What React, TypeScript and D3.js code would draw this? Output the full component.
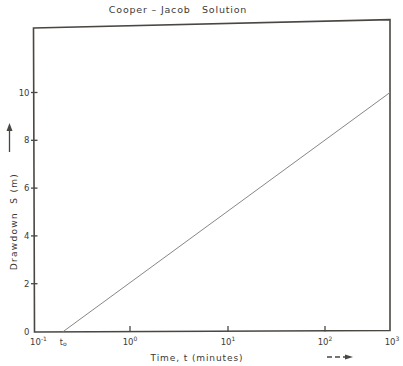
import React from "react";
import * as d3 from "d3";

const titleText = "Cooper – Jacob   Solution";
const xTitle = "Time, t (minutes)";
const yTitle = "Drawdown  S (m)";
const xDecades = [0.1, 1, 10, 100, 1000];
const xExponents = ["-1", "0", "1", "2", "3"];
const xInnerTicks = [1, 10, 100];
const yTicks = [0, 2, 4, 6, 8, 10];
const t0Label = "t";
const t0Value = 0.2;
const lineTime = [0.2, 1000];
const lineDrawdown = [0, 10];

export default function App() {
  const W = 403;
  const H = 366;
  // hand-drawn log axis: decades are not evenly spaced in the original drawing
  const x = d3.scaleLog().domain(xDecades).range([34.5, 130, 228, 325, 390]);
  const y = d3.scaleLinear().domain([0, 10]).range([331.5, 92.5]);
  const ink = "#4a4642";
  const txt = "#3c3a38";
  const font = "'DejaVu Sans', 'Liberation Sans', sans-serif";

  const frame = `M${x(0.1) - 1},${y(12.7)} L${x(1000)},${y(13.05)} L${x(1000)},${y(0) - 1} L${x(0.1)},${y(0) + 0.5} Z`;

  const pts: [number, number][] = lineTime.map((t, i) => [t, lineDrawdown[i]]);
  const linePath = d3
    .line<[number, number]>()
    .x((d) => x(d[0]))
    .y((d) => y(d[1]))(pts) as string;

  return (
    <svg
      width={W}
      height={H}
      style={{ position: "absolute", left: 0, top: 0, background: "#fff" }}
    >
      <text
        x={178}
        y={13}
        textAnchor="middle"
        fontFamily={font}
        fontSize={9.5}
        letterSpacing={0.8}
        fill={txt}
        style={{ whiteSpace: "pre" }}
      >
        {titleText}
      </text>

      <path d={frame} fill="none" stroke={ink} strokeWidth={1.6} />

      <path d={linePath} fill="none" stroke="#8a8682" strokeWidth={1} />

      {/* x ticks */}
      {xInnerTicks.map((v) => (
        <line key={v} x1={x(v)} x2={x(v)} y1={y(0) - 5.5} y2={y(0)} stroke={ink} strokeWidth={1.3} />
      ))}
      {/* y ticks */}
      {yTicks.filter((v) => v > 0).map((v) => (
        <line key={v} x1={x(0.1) - 3.5} x2={x(0.1) + 3} y1={y(v)} y2={y(v)} stroke={ink} strokeWidth={1.3} />
      ))}

      {/* x tick labels */}
      {xDecades.map((v, i) => (
        <text
          key={v}
          x={x(v) + (i === 0 ? 4 : i === xDecades.length - 1 ? 2 : 0)}
          y={345}
          textAnchor="middle"
          fontFamily={font}
          fontSize={8.5}
          fill={txt}
        >
          10
          <tspan dy={-4} fontSize={6}>
            {xExponents[i]}
          </tspan>
        </text>
      ))}
      <text x={x(t0Value)} y={345} textAnchor="middle" fontFamily={font} fontSize={8} fill={txt}>
        {t0Label}
        <tspan fontSize={6} dy={0.5}>o</tspan>
      </text>

      {/* y tick labels */}
      {yTicks.map((v) => (
        <text
          key={v}
          x={x(0.1) - 5}
          y={y(v) + 3}
          textAnchor="end"
          fontFamily={font}
          fontSize={8.5}
          fill={txt}
        >
          {v}
        </text>
      ))}

      {/* axis titles */}
      <text
        x={197}
        y={361}
        textAnchor="middle"
        fontFamily={font}
        fontSize={9}
        letterSpacing={0.9}
        fill={txt}
      >
        {xTitle}
      </text>
      <text
        transform={`translate(17,${y(4.6)}) rotate(-90)`}
        textAnchor="middle"
        fontFamily={font}
        fontSize={9}
        letterSpacing={1.3}
        fill={txt}
        style={{ whiteSpace: "pre" }}
      >
        {yTitle}
      </text>

      {/* direction arrows */}
      <line x1={9.5} x2={9.5} y1={152} y2={129} stroke={ink} strokeWidth={1.3} />
      <path d="M6.5,131 L9.5,123 L12.5,131 Z" fill={ink} />
      <line x1={327} x2={346} y1={357} y2={357} stroke={ink} strokeWidth={1.3} strokeDasharray="5,3" />
      <path d="M345,354.5 L353,357 L345,359.5 Z" fill={ink} />
    </svg>
  );
}
